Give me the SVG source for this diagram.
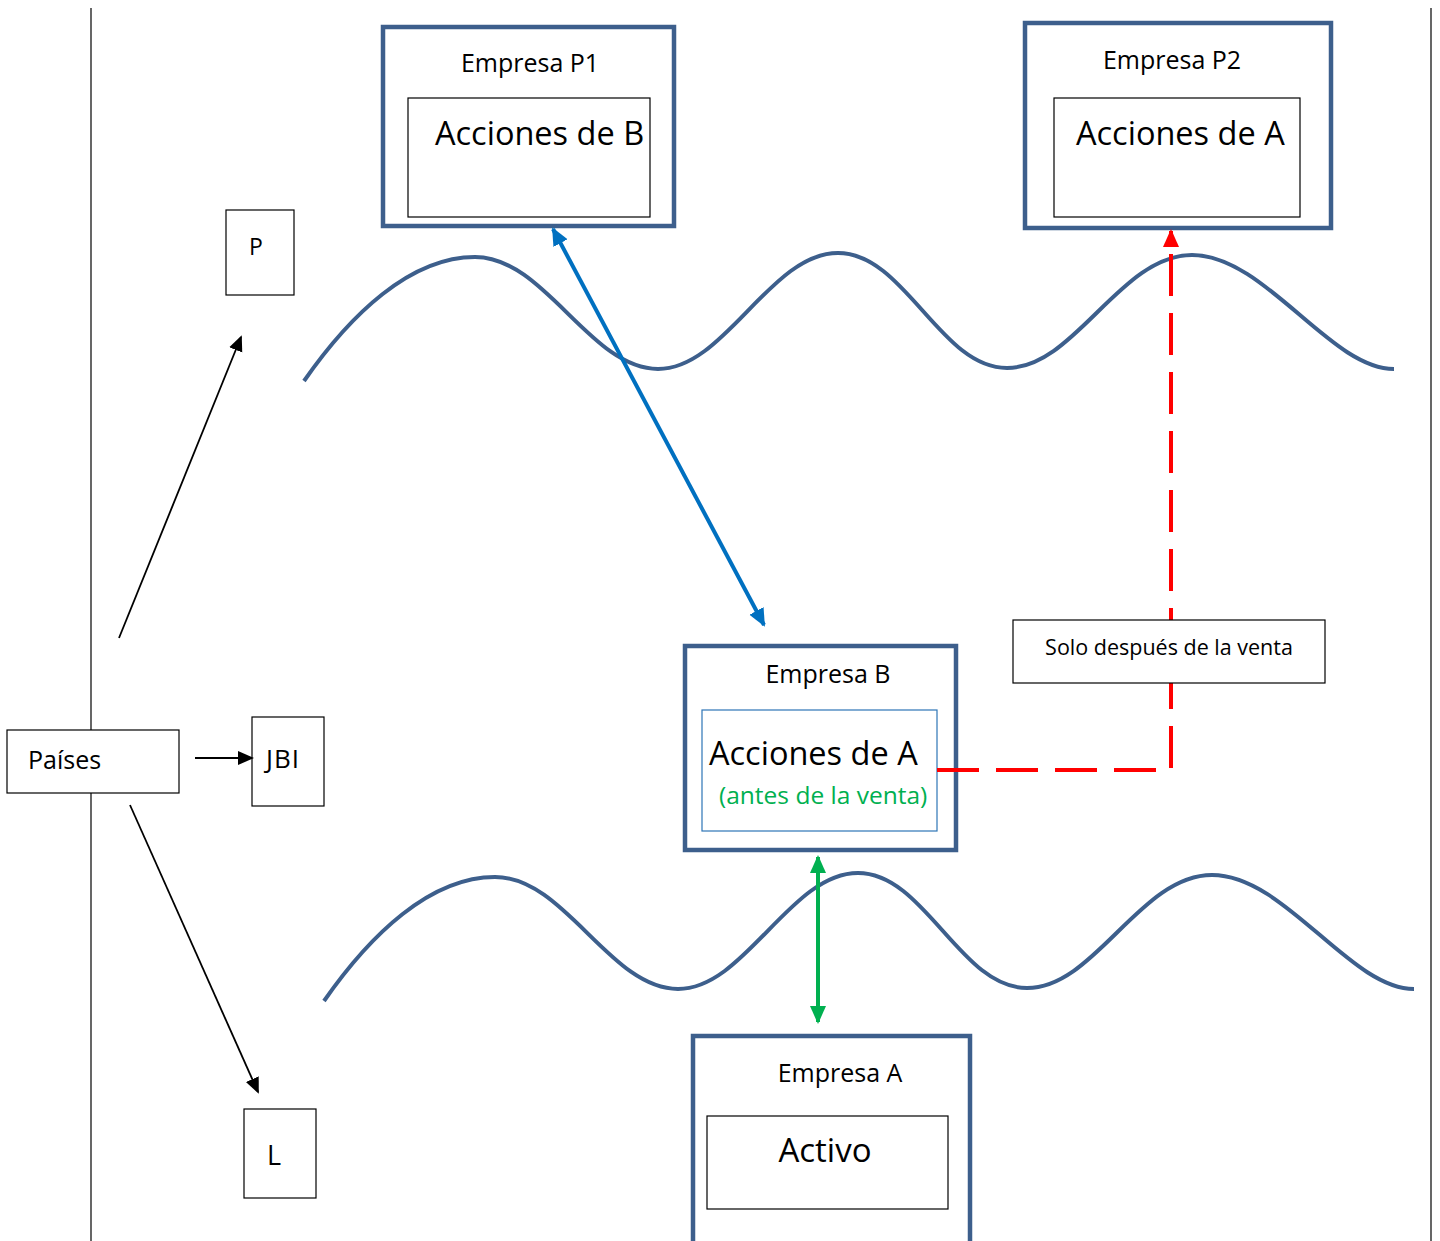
<svg xmlns="http://www.w3.org/2000/svg" width="1440" height="1241" viewBox="0 0 1440 1241">
<style>
.outer{fill:#fff;stroke:#3D5F8C;stroke-width:4.5}
.inner{fill:#fff;stroke:#000;stroke-width:1.2}
.small{fill:#fff;stroke:#000;stroke-width:1.2}
.t{font-family:"Open Sans","Noto Sans",sans-serif;fill:#000}
.wave{fill:none;stroke:#3D5F8C;stroke-width:4}
</style>
<defs>
<marker id="ab" markerUnits="userSpaceOnUse" markerWidth="16" markerHeight="16" viewBox="0 0 16 16" refX="14" refY="8" orient="auto-start-reverse"><path d="M0,1 L16,8 L0,15 Z" fill="#000"/></marker>
<marker id="abl" markerUnits="userSpaceOnUse" markerWidth="18" markerHeight="18" viewBox="0 0 18 18" refX="16" refY="9" orient="auto-start-reverse"><path d="M0,1 L18,9 L0,17 Z" fill="#0070C0"/></marker>
<marker id="ag" markerUnits="userSpaceOnUse" markerWidth="18" markerHeight="18" viewBox="0 0 18 18" refX="16" refY="9" orient="auto-start-reverse"><path d="M0,1 L18,9 L0,17 Z" fill="#00B050"/></marker>
<marker id="ar" markerUnits="userSpaceOnUse" markerWidth="18" markerHeight="18" viewBox="0 0 18 18" refX="16" refY="9" orient="auto"><path d="M0,1 L18,9 L0,17 Z" fill="#FF0000"/></marker>
</defs>
<rect width="1440" height="1241" fill="#fff"/>
<g id="frame">
<line x1="91" y1="8" x2="91" y2="1241" stroke="#000" stroke-width="1.2"/>
<line x1="1431" y1="8" x2="1431" y2="1241" stroke="#000" stroke-width="1.2"/>
</g>
<g id="waves">
<path class="wave" d="M304,381 C350,315 410,257 475,257 C545,257 590,369 658,369 C725,369 770,253 838,253 C905,253 940,368 1007,368 C1075,368 1120,255 1192,255 C1265,255 1330,369 1394,369"/>
<path class="wave" transform="translate(20,620)" d="M304,381 C350,315 410,257 475,257 C545,257 590,369 658,369 C725,369 770,253 838,253 C905,253 940,368 1007,368 C1075,368 1120,255 1192,255 C1265,255 1330,369 1394,369"/>
</g>
<g id="empresaP1">
<rect class="outer" x="383" y="27" width="291" height="199"/>
<text class="t" x="530" y="72" font-size="25" text-anchor="middle">Empresa P1</text>
<rect class="inner" x="408" y="98" width="242" height="119"/>
<text class="t" x="435" y="145" font-size="32.5">Acciones de B</text>
</g>
<g id="empresaP2">
<rect class="outer" x="1025" y="23" width="306" height="205"/>
<text class="t" x="1172" y="69" font-size="25" text-anchor="middle">Empresa P2</text>
<rect class="inner" x="1054" y="98" width="246" height="119"/>
<text class="t" x="1076" y="145" font-size="32.5">Acciones de A</text>
</g>
<g id="nodeP">
<rect class="small" x="226" y="210" width="68" height="85"/>
<text class="t" x="249" y="255" font-size="23">P</text>
</g>
<g id="empresaB">
<rect class="outer" x="685" y="646" width="271" height="204"/>
<text class="t" x="828" y="683" font-size="25" text-anchor="middle">Empresa B</text>
<rect x="702" y="710" width="235" height="121" fill="#fff" stroke="#2E75B6" stroke-width="1.2"/>
<text class="t" x="709" y="765" font-size="32.5">Acciones de A</text>
<text class="t" x="719" y="804" font-size="24.5" style="fill:#00B050">(antes de la venta)</text>
</g>
<g id="paises">
<rect class="small" x="7" y="730" width="172" height="63"/>
<text class="t" x="28" y="769" font-size="25">Países</text>
</g>
<g id="jbi">
<rect class="small" x="252" y="717" width="72" height="89"/>
<text class="t" x="266" y="768" font-size="26" letter-spacing="1">JBI</text>
</g>
<g id="nodeL">
<rect class="small" x="244" y="1109" width="72" height="89"/>
<text class="t" x="267" y="1165" font-size="27">L</text>
</g>
<g id="empresaA">
<rect class="outer" x="693" y="1036" width="277" height="210"/>
<text class="t" x="840" y="1082" font-size="25" text-anchor="middle">Empresa A</text>
<rect class="inner" x="707" y="1116" width="241" height="93"/>
<text class="t" x="825" y="1162" font-size="33" text-anchor="middle">Activo</text>
</g>
<g id="connectors">
<line x1="119" y1="638" x2="241" y2="337" stroke="#000" stroke-width="1.8" marker-end="url(#ab)"/>
<line x1="130" y1="805" x2="258" y2="1092" stroke="#000" stroke-width="1.8" marker-end="url(#ab)"/>
<line x1="195" y1="758" x2="252" y2="758" stroke="#000" stroke-width="1.8" marker-end="url(#ab)"/>
<line x1="553" y1="229" x2="764" y2="625" stroke="#0070C0" stroke-width="4" marker-start="url(#abl)" marker-end="url(#abl)"/>
<line x1="818" y1="857" x2="818" y2="1022" stroke="#00B050" stroke-width="4" marker-start="url(#ag)" marker-end="url(#ag)"/>
<path d="M937,770 H1171 V231" fill="none" stroke="#FF0000" stroke-width="4" stroke-dasharray="42 17" marker-end="url(#ar)"/>
</g>
<g id="solo">
<rect class="small" x="1013" y="620" width="312" height="63"/>
<text class="t" x="1169" y="655" font-size="21.5" text-anchor="middle">Solo después de la venta</text>
</g>
</svg>
